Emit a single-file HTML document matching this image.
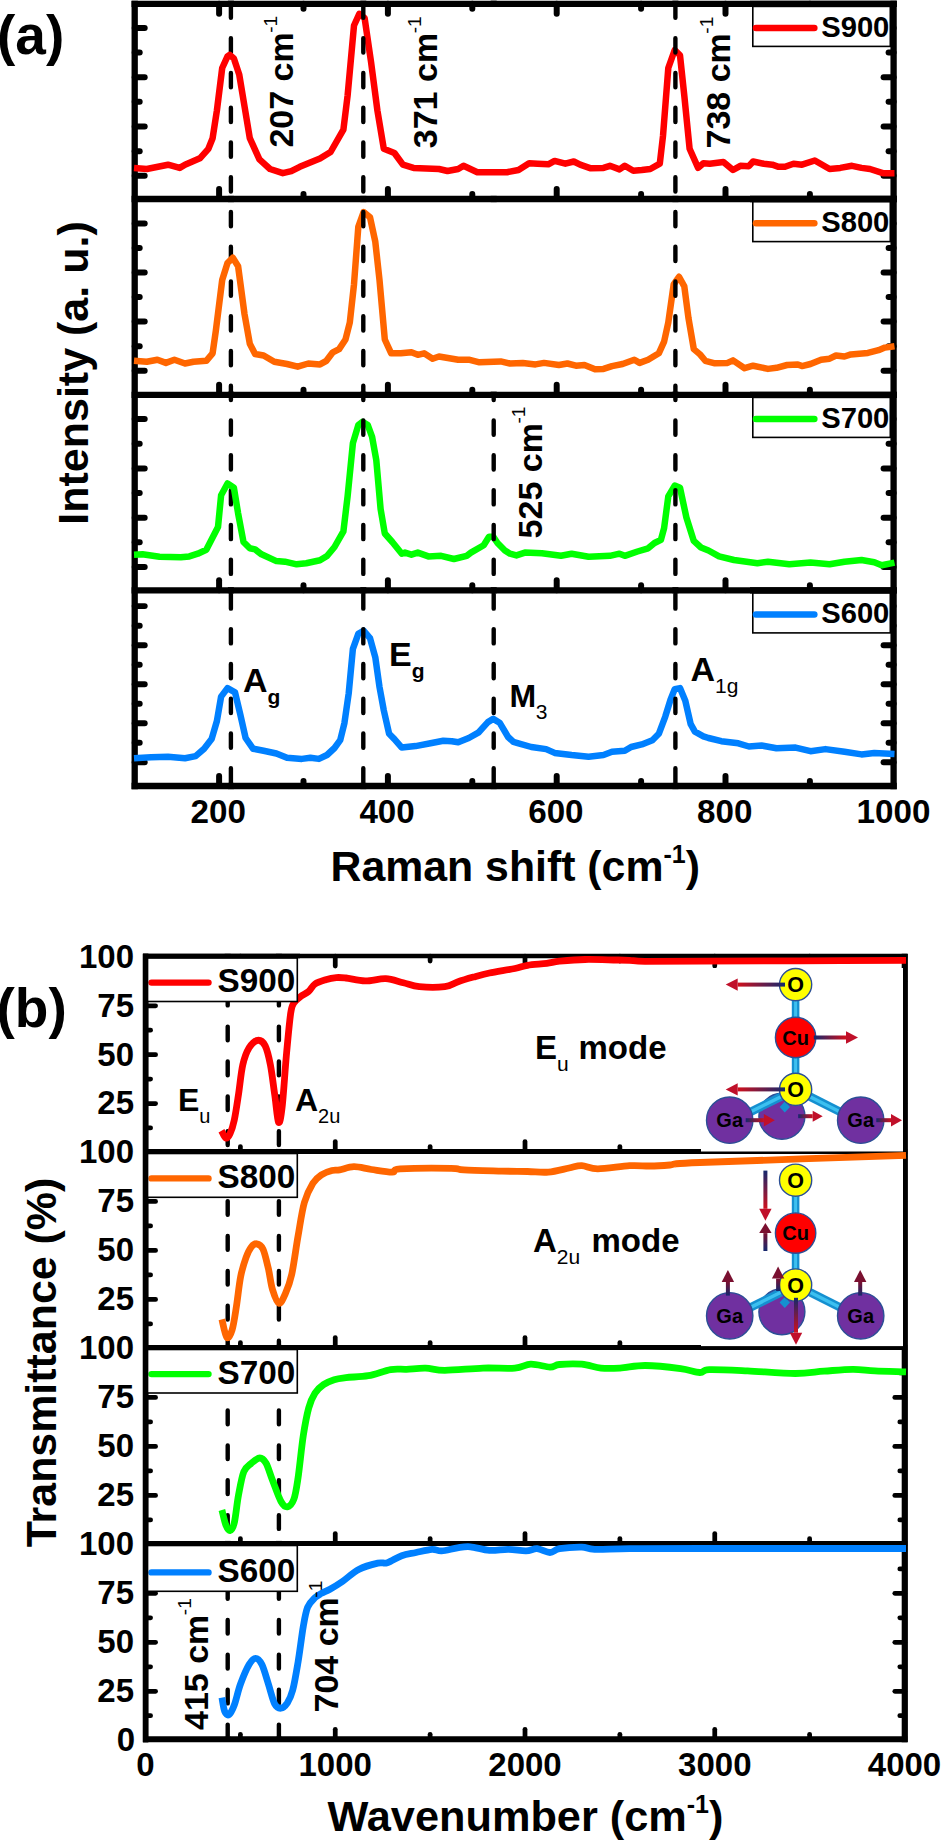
<!DOCTYPE html>
<html><head><meta charset="utf-8"><style>
html,body{margin:0;padding:0;background:#fff;}
svg{display:block;font-family:"Liberation Sans", sans-serif;}
</style></head><body>
<svg width="941" height="1843" viewBox="0 0 941 1843" font-family="Liberation Sans, sans-serif">
<defs>
<linearGradient id="gR" x1="0" y1="0" x2="1" y2="0"><stop offset="0" stop-color="#14286e"/><stop offset="1" stop-color="#d0101c"/></linearGradient>
<linearGradient id="gL" x1="1" y1="0" x2="0" y2="0"><stop offset="0" stop-color="#14286e"/><stop offset="1" stop-color="#d0101c"/></linearGradient>
<linearGradient id="gD" x1="0" y1="0" x2="0" y2="1"><stop offset="0" stop-color="#14286e"/><stop offset="1" stop-color="#d0101c"/></linearGradient>
<linearGradient id="gU" x1="0" y1="1" x2="0" y2="0"><stop offset="0" stop-color="#14286e"/><stop offset="1" stop-color="#7a1030"/></linearGradient>
<linearGradient id="bond" x1="0" y1="0" x2="1" y2="0"><stop offset="0" stop-color="#1a8fd0"/><stop offset="0.5" stop-color="#5cc8f5"/><stop offset="1" stop-color="#1a8fd0"/></linearGradient>
</defs>
<rect x="0" y="0" width="941" height="1843" fill="#fff"/>
<line x1="134.70" y1="27.90" x2="144.70" y2="27.90" stroke="#000" stroke-width="5.984999999999999" stroke-linecap="round" />
<line x1="893.60" y1="27.90" x2="883.60" y2="27.90" stroke="#000" stroke-width="5.984999999999999" stroke-linecap="round" />
<line x1="134.70" y1="52.55" x2="139.70" y2="52.55" stroke="#000" stroke-width="5.984999999999999" stroke-linecap="round" />
<line x1="893.60" y1="52.55" x2="888.60" y2="52.55" stroke="#000" stroke-width="5.984999999999999" stroke-linecap="round" />
<line x1="134.70" y1="77.20" x2="144.70" y2="77.20" stroke="#000" stroke-width="5.984999999999999" stroke-linecap="round" />
<line x1="893.60" y1="77.20" x2="883.60" y2="77.20" stroke="#000" stroke-width="5.984999999999999" stroke-linecap="round" />
<line x1="134.70" y1="101.85" x2="139.70" y2="101.85" stroke="#000" stroke-width="5.984999999999999" stroke-linecap="round" />
<line x1="893.60" y1="101.85" x2="888.60" y2="101.85" stroke="#000" stroke-width="5.984999999999999" stroke-linecap="round" />
<line x1="134.70" y1="126.50" x2="144.70" y2="126.50" stroke="#000" stroke-width="5.984999999999999" stroke-linecap="round" />
<line x1="893.60" y1="126.50" x2="883.60" y2="126.50" stroke="#000" stroke-width="5.984999999999999" stroke-linecap="round" />
<line x1="134.70" y1="151.15" x2="139.70" y2="151.15" stroke="#000" stroke-width="5.984999999999999" stroke-linecap="round" />
<line x1="893.60" y1="151.15" x2="888.60" y2="151.15" stroke="#000" stroke-width="5.984999999999999" stroke-linecap="round" />
<line x1="134.70" y1="175.80" x2="144.70" y2="175.80" stroke="#000" stroke-width="5.984999999999999" stroke-linecap="round" />
<line x1="893.60" y1="175.80" x2="883.60" y2="175.80" stroke="#000" stroke-width="5.984999999999999" stroke-linecap="round" />
<line x1="219.10" y1="3.80" x2="219.10" y2="13.80" stroke="#000" stroke-width="5.984999999999999" stroke-linecap="round" />
<line x1="219.10" y1="199.00" x2="219.10" y2="189.00" stroke="#000" stroke-width="5.984999999999999" stroke-linecap="round" />
<line x1="387.90" y1="3.80" x2="387.90" y2="13.80" stroke="#000" stroke-width="5.984999999999999" stroke-linecap="round" />
<line x1="387.90" y1="199.00" x2="387.90" y2="189.00" stroke="#000" stroke-width="5.984999999999999" stroke-linecap="round" />
<line x1="556.70" y1="3.80" x2="556.70" y2="13.80" stroke="#000" stroke-width="5.984999999999999" stroke-linecap="round" />
<line x1="556.70" y1="199.00" x2="556.70" y2="189.00" stroke="#000" stroke-width="5.984999999999999" stroke-linecap="round" />
<line x1="725.50" y1="3.80" x2="725.50" y2="13.80" stroke="#000" stroke-width="5.984999999999999" stroke-linecap="round" />
<line x1="725.50" y1="199.00" x2="725.50" y2="189.00" stroke="#000" stroke-width="5.984999999999999" stroke-linecap="round" />
<line x1="303.50" y1="3.80" x2="303.50" y2="8.80" stroke="#000" stroke-width="5.984999999999999" stroke-linecap="round" />
<line x1="303.50" y1="199.00" x2="303.50" y2="194.00" stroke="#000" stroke-width="5.984999999999999" stroke-linecap="round" />
<line x1="472.30" y1="3.80" x2="472.30" y2="8.80" stroke="#000" stroke-width="5.984999999999999" stroke-linecap="round" />
<line x1="472.30" y1="199.00" x2="472.30" y2="194.00" stroke="#000" stroke-width="5.984999999999999" stroke-linecap="round" />
<line x1="641.10" y1="3.80" x2="641.10" y2="8.80" stroke="#000" stroke-width="5.984999999999999" stroke-linecap="round" />
<line x1="641.10" y1="199.00" x2="641.10" y2="194.00" stroke="#000" stroke-width="5.984999999999999" stroke-linecap="round" />
<line x1="809.90" y1="3.80" x2="809.90" y2="8.80" stroke="#000" stroke-width="5.984999999999999" stroke-linecap="round" />
<line x1="809.90" y1="199.00" x2="809.90" y2="194.00" stroke="#000" stroke-width="5.984999999999999" stroke-linecap="round" />
<line x1="134.70" y1="223.40" x2="144.70" y2="223.40" stroke="#000" stroke-width="5.984999999999999" stroke-linecap="round" />
<line x1="893.60" y1="223.40" x2="883.60" y2="223.40" stroke="#000" stroke-width="5.984999999999999" stroke-linecap="round" />
<line x1="134.70" y1="247.95" x2="139.70" y2="247.95" stroke="#000" stroke-width="5.984999999999999" stroke-linecap="round" />
<line x1="893.60" y1="247.95" x2="888.60" y2="247.95" stroke="#000" stroke-width="5.984999999999999" stroke-linecap="round" />
<line x1="134.70" y1="272.50" x2="144.70" y2="272.50" stroke="#000" stroke-width="5.984999999999999" stroke-linecap="round" />
<line x1="893.60" y1="272.50" x2="883.60" y2="272.50" stroke="#000" stroke-width="5.984999999999999" stroke-linecap="round" />
<line x1="134.70" y1="297.05" x2="139.70" y2="297.05" stroke="#000" stroke-width="5.984999999999999" stroke-linecap="round" />
<line x1="893.60" y1="297.05" x2="888.60" y2="297.05" stroke="#000" stroke-width="5.984999999999999" stroke-linecap="round" />
<line x1="134.70" y1="321.60" x2="144.70" y2="321.60" stroke="#000" stroke-width="5.984999999999999" stroke-linecap="round" />
<line x1="893.60" y1="321.60" x2="883.60" y2="321.60" stroke="#000" stroke-width="5.984999999999999" stroke-linecap="round" />
<line x1="134.70" y1="346.15" x2="139.70" y2="346.15" stroke="#000" stroke-width="5.984999999999999" stroke-linecap="round" />
<line x1="893.60" y1="346.15" x2="888.60" y2="346.15" stroke="#000" stroke-width="5.984999999999999" stroke-linecap="round" />
<line x1="134.70" y1="370.70" x2="144.70" y2="370.70" stroke="#000" stroke-width="5.984999999999999" stroke-linecap="round" />
<line x1="893.60" y1="370.70" x2="883.60" y2="370.70" stroke="#000" stroke-width="5.984999999999999" stroke-linecap="round" />
<line x1="219.10" y1="394.80" x2="219.10" y2="384.80" stroke="#000" stroke-width="5.984999999999999" stroke-linecap="round" />
<line x1="387.90" y1="394.80" x2="387.90" y2="384.80" stroke="#000" stroke-width="5.984999999999999" stroke-linecap="round" />
<line x1="556.70" y1="394.80" x2="556.70" y2="384.80" stroke="#000" stroke-width="5.984999999999999" stroke-linecap="round" />
<line x1="725.50" y1="394.80" x2="725.50" y2="384.80" stroke="#000" stroke-width="5.984999999999999" stroke-linecap="round" />
<line x1="303.50" y1="394.80" x2="303.50" y2="389.80" stroke="#000" stroke-width="5.984999999999999" stroke-linecap="round" />
<line x1="472.30" y1="394.80" x2="472.30" y2="389.80" stroke="#000" stroke-width="5.984999999999999" stroke-linecap="round" />
<line x1="641.10" y1="394.80" x2="641.10" y2="389.80" stroke="#000" stroke-width="5.984999999999999" stroke-linecap="round" />
<line x1="809.90" y1="394.80" x2="809.90" y2="389.80" stroke="#000" stroke-width="5.984999999999999" stroke-linecap="round" />
<line x1="134.70" y1="419.10" x2="144.70" y2="419.10" stroke="#000" stroke-width="5.984999999999999" stroke-linecap="round" />
<line x1="893.60" y1="419.10" x2="883.60" y2="419.10" stroke="#000" stroke-width="5.984999999999999" stroke-linecap="round" />
<line x1="134.70" y1="443.75" x2="139.70" y2="443.75" stroke="#000" stroke-width="5.984999999999999" stroke-linecap="round" />
<line x1="893.60" y1="443.75" x2="888.60" y2="443.75" stroke="#000" stroke-width="5.984999999999999" stroke-linecap="round" />
<line x1="134.70" y1="468.40" x2="144.70" y2="468.40" stroke="#000" stroke-width="5.984999999999999" stroke-linecap="round" />
<line x1="893.60" y1="468.40" x2="883.60" y2="468.40" stroke="#000" stroke-width="5.984999999999999" stroke-linecap="round" />
<line x1="134.70" y1="493.05" x2="139.70" y2="493.05" stroke="#000" stroke-width="5.984999999999999" stroke-linecap="round" />
<line x1="893.60" y1="493.05" x2="888.60" y2="493.05" stroke="#000" stroke-width="5.984999999999999" stroke-linecap="round" />
<line x1="134.70" y1="517.70" x2="144.70" y2="517.70" stroke="#000" stroke-width="5.984999999999999" stroke-linecap="round" />
<line x1="893.60" y1="517.70" x2="883.60" y2="517.70" stroke="#000" stroke-width="5.984999999999999" stroke-linecap="round" />
<line x1="134.70" y1="542.35" x2="139.70" y2="542.35" stroke="#000" stroke-width="5.984999999999999" stroke-linecap="round" />
<line x1="893.60" y1="542.35" x2="888.60" y2="542.35" stroke="#000" stroke-width="5.984999999999999" stroke-linecap="round" />
<line x1="134.70" y1="567.00" x2="144.70" y2="567.00" stroke="#000" stroke-width="5.984999999999999" stroke-linecap="round" />
<line x1="893.60" y1="567.00" x2="883.60" y2="567.00" stroke="#000" stroke-width="5.984999999999999" stroke-linecap="round" />
<line x1="219.10" y1="590.30" x2="219.10" y2="580.30" stroke="#000" stroke-width="5.984999999999999" stroke-linecap="round" />
<line x1="387.90" y1="590.30" x2="387.90" y2="580.30" stroke="#000" stroke-width="5.984999999999999" stroke-linecap="round" />
<line x1="556.70" y1="590.30" x2="556.70" y2="580.30" stroke="#000" stroke-width="5.984999999999999" stroke-linecap="round" />
<line x1="725.50" y1="590.30" x2="725.50" y2="580.30" stroke="#000" stroke-width="5.984999999999999" stroke-linecap="round" />
<line x1="303.50" y1="590.30" x2="303.50" y2="585.30" stroke="#000" stroke-width="5.984999999999999" stroke-linecap="round" />
<line x1="472.30" y1="590.30" x2="472.30" y2="585.30" stroke="#000" stroke-width="5.984999999999999" stroke-linecap="round" />
<line x1="641.10" y1="590.30" x2="641.10" y2="585.30" stroke="#000" stroke-width="5.984999999999999" stroke-linecap="round" />
<line x1="809.90" y1="590.30" x2="809.90" y2="585.30" stroke="#000" stroke-width="5.984999999999999" stroke-linecap="round" />
<line x1="134.70" y1="606.12" x2="144.70" y2="606.12" stroke="#000" stroke-width="5.984999999999999" stroke-linecap="round" />
<line x1="893.60" y1="606.12" x2="883.60" y2="606.12" stroke="#000" stroke-width="5.984999999999999" stroke-linecap="round" />
<line x1="134.70" y1="625.64" x2="139.70" y2="625.64" stroke="#000" stroke-width="5.984999999999999" stroke-linecap="round" />
<line x1="893.60" y1="625.64" x2="888.60" y2="625.64" stroke="#000" stroke-width="5.984999999999999" stroke-linecap="round" />
<line x1="134.70" y1="645.16" x2="144.70" y2="645.16" stroke="#000" stroke-width="5.984999999999999" stroke-linecap="round" />
<line x1="893.60" y1="645.16" x2="883.60" y2="645.16" stroke="#000" stroke-width="5.984999999999999" stroke-linecap="round" />
<line x1="134.70" y1="664.68" x2="139.70" y2="664.68" stroke="#000" stroke-width="5.984999999999999" stroke-linecap="round" />
<line x1="893.60" y1="664.68" x2="888.60" y2="664.68" stroke="#000" stroke-width="5.984999999999999" stroke-linecap="round" />
<line x1="134.70" y1="684.20" x2="144.70" y2="684.20" stroke="#000" stroke-width="5.984999999999999" stroke-linecap="round" />
<line x1="893.60" y1="684.20" x2="883.60" y2="684.20" stroke="#000" stroke-width="5.984999999999999" stroke-linecap="round" />
<line x1="134.70" y1="703.72" x2="139.70" y2="703.72" stroke="#000" stroke-width="5.984999999999999" stroke-linecap="round" />
<line x1="893.60" y1="703.72" x2="888.60" y2="703.72" stroke="#000" stroke-width="5.984999999999999" stroke-linecap="round" />
<line x1="134.70" y1="723.24" x2="144.70" y2="723.24" stroke="#000" stroke-width="5.984999999999999" stroke-linecap="round" />
<line x1="893.60" y1="723.24" x2="883.60" y2="723.24" stroke="#000" stroke-width="5.984999999999999" stroke-linecap="round" />
<line x1="134.70" y1="742.76" x2="139.70" y2="742.76" stroke="#000" stroke-width="5.984999999999999" stroke-linecap="round" />
<line x1="893.60" y1="742.76" x2="888.60" y2="742.76" stroke="#000" stroke-width="5.984999999999999" stroke-linecap="round" />
<line x1="134.70" y1="762.28" x2="144.70" y2="762.28" stroke="#000" stroke-width="5.984999999999999" stroke-linecap="round" />
<line x1="893.60" y1="762.28" x2="883.60" y2="762.28" stroke="#000" stroke-width="5.984999999999999" stroke-linecap="round" />
<line x1="219.10" y1="786.00" x2="219.10" y2="776.00" stroke="#000" stroke-width="5.984999999999999" stroke-linecap="round" />
<line x1="387.90" y1="786.00" x2="387.90" y2="776.00" stroke="#000" stroke-width="5.984999999999999" stroke-linecap="round" />
<line x1="556.70" y1="786.00" x2="556.70" y2="776.00" stroke="#000" stroke-width="5.984999999999999" stroke-linecap="round" />
<line x1="725.50" y1="786.00" x2="725.50" y2="776.00" stroke="#000" stroke-width="5.984999999999999" stroke-linecap="round" />
<line x1="303.50" y1="786.00" x2="303.50" y2="781.00" stroke="#000" stroke-width="5.984999999999999" stroke-linecap="round" />
<line x1="472.30" y1="786.00" x2="472.30" y2="781.00" stroke="#000" stroke-width="5.984999999999999" stroke-linecap="round" />
<line x1="641.10" y1="786.00" x2="641.10" y2="781.00" stroke="#000" stroke-width="5.984999999999999" stroke-linecap="round" />
<line x1="809.90" y1="786.00" x2="809.90" y2="781.00" stroke="#000" stroke-width="5.984999999999999" stroke-linecap="round" />
<line x1="131.55" y1="3.80" x2="896.75" y2="3.80" stroke="#000" stroke-width="6.3" stroke-linecap="butt" />
<line x1="131.55" y1="199.00" x2="896.75" y2="199.00" stroke="#000" stroke-width="6.3" stroke-linecap="butt" />
<line x1="131.55" y1="394.80" x2="896.75" y2="394.80" stroke="#000" stroke-width="6.3" stroke-linecap="butt" />
<line x1="131.55" y1="590.30" x2="896.75" y2="590.30" stroke="#000" stroke-width="6.3" stroke-linecap="butt" />
<line x1="131.55" y1="786.00" x2="896.75" y2="786.00" stroke="#000" stroke-width="6.3" stroke-linecap="butt" />
<line x1="134.70" y1="0.65" x2="134.70" y2="789.15" stroke="#000" stroke-width="6.3" stroke-linecap="butt" />
<line x1="893.60" y1="0.65" x2="893.60" y2="789.15" stroke="#000" stroke-width="6.3" stroke-linecap="butt" />
<path d="M230.9,4.00V17.74 M230.9,38.20V52.50 M230.9,72.96V87.26 M230.9,107.72V122.02 M230.9,142.48V156.78 M230.9,177.24V191.54 M230.9,212.00V226.30 M230.9,246.76V261.06 M230.9,281.52V295.82 M230.9,316.28V330.58 M230.9,351.04V365.34 M230.9,385.80V400.10 M230.9,420.56V434.86 M230.9,455.32V469.62 M230.9,490.08V504.38 M230.9,524.84V539.14 M230.9,559.60V573.90 M230.9,594.36V608.66 M230.9,629.12V643.42 M230.9,663.88V678.18 M230.9,698.64V712.94 M230.9,733.40V747.70 M230.9,768.16V782.46" stroke="#000" stroke-width="4.4" stroke-linecap="round" fill="none"/>
<polyline points="134.0,167.9 146.8,169.0 168.0,164.7 179.7,167.9 185.0,164.7 199.9,158.3 208.4,148.8 212.6,138.2 216.9,110.5 222.2,68.0 227.5,56.3 229.6,54.8 233.9,58.4 239.2,74.4 244.5,106.3 249.8,138.2 259.4,159.4 270.0,169.0 282.8,173.2 291.3,171.1 299.8,166.8 320.0,158.5 330.6,152.0 343.4,129.6 347.6,95.6 354.0,25.5 359.3,13.8 364.6,18.0 371.0,61.6 377.4,110.5 383.8,148.8 394.4,153.0 402.9,164.7 413.5,167.9 439.0,169.0 447.5,171.0 458.2,169.0 463.5,165.8 477.3,172.2 507.0,172.2 518.5,170.0 529.1,163.2 537.6,163.7 548.3,164.3 554.6,160.9 565.3,163.7 573.8,161.5 580.1,164.7 590.8,168.3 603.5,167.9 609.9,165.8 619.5,169.4 624.8,165.8 633.3,170.7 641.8,170.0 650.3,169.0 659.8,163.7 663.0,136.0 668.3,68.0 674.7,50.0 680.0,55.3 684.3,95.6 689.6,148.8 698.1,167.9 703.4,163.2 709.8,163.7 723.4,162.0 733.0,170.0 740.4,165.8 748.9,166.2 753.1,161.5 763.8,163.7 772.3,164.7 778.6,166.8 785.0,166.8 793.5,163.7 802.0,164.7 814.8,160.5 829.6,169.0 840.3,167.9 852.0,165.8 861.5,167.9 870.0,169.0 882.8,173.2 894.5,173.2" fill="none" stroke="#ff0000" stroke-width="6.5" stroke-linejoin="round" stroke-linecap="butt" />
<polyline points="134.0,360.8 146.8,361.8 157.4,359.7 165.9,362.9 174.4,359.7 185.0,363.5 193.5,361.8 206.3,360.8 212.6,353.3 215.8,331.0 222.2,280.0 227.5,263.0 232.8,257.7 238.1,266.2 244.5,314.0 249.8,343.8 255.1,354.0 263.6,355.5 274.3,361.8 287.0,364.0 297.7,366.7 308.3,363.5 320.0,364.4 326.4,360.8 332.8,352.3 339.1,349.1 345.5,339.5 349.8,322.5 354.0,284.3 358.3,226.9 363.6,212.0 370.0,217.3 375.3,241.8 379.5,280.0 384.8,339.5 391.2,353.3 400.8,353.3 411.4,352.3 417.8,354.8 424.1,353.3 432.6,358.7 439.0,356.5 458.2,359.7 468.8,359.7 479.4,362.3 500.7,361.4 510.0,363.5 522.8,362.9 535.5,364.4 544.0,362.9 558.9,365.0 567.4,363.5 575.9,365.7 584.4,365.0 595.0,369.3 603.5,368.9 612.0,366.1 622.6,364.0 634.3,359.7 639.6,362.9 648.1,359.7 658.8,353.3 664.1,341.6 668.3,322.5 673.7,284.3 679.0,276.8 684.3,286.4 688.5,318.3 693.8,349.1 700.0,354.4 705.3,360.8 714.9,363.3 727.6,362.9 733.0,360.4 744.6,368.2 753.1,365.7 768.0,368.9 776.5,367.8 787.1,365.0 797.8,364.4 802.0,366.1 810.5,364.0 821.1,359.7 829.6,358.7 836.0,355.5 844.5,356.5 850.9,354.4 867.9,352.9 878.5,350.2 884.9,347.6 894.5,346.3" fill="none" stroke="#ff6600" stroke-width="6.5" stroke-linejoin="round" stroke-linecap="butt" />
<polyline points="134.0,554.7 142.5,554.3 159.5,556.8 180.8,557.3 189.3,556.4 197.8,553.7 206.3,549.8 218.0,527.1 221.1,495.2 227.5,483.5 233.9,487.8 238.1,513.3 243.5,542.0 249.8,548.3 255.1,549.4 261.5,554.3 276.4,561.1 284.9,561.7 296.6,564.3 306.2,563.2 320.0,560.3 327.0,556.0 334.5,547.0 343.4,531.3 347.6,496.3 352.9,443.1 358.3,425.1 362.5,421.9 367.8,425.1 372.1,436.8 376.3,460.1 380.6,509.0 384.8,533.5 392.3,542.0 401.8,553.7 405.0,552.6 411.4,554.7 417.8,552.6 428.4,556.4 441.1,555.8 453.9,559.0 466.7,555.8 470.9,552.6 483.7,545.2 489.0,536.7 493.2,536.7 497.5,543.0 504.9,550.5 510.0,553.7 516.4,555.4 524.9,552.6 541.9,553.2 561.0,555.8 571.6,553.7 588.6,556.8 609.9,555.8 619.5,553.7 624.8,555.8 637.5,551.5 648.1,548.3 654.5,543.0 660.9,539.8 664.1,528.2 668.3,496.3 674.7,485.6 680.0,487.8 686.4,517.5 693.8,540.9 701.0,547.5 708.5,550.5 719.1,556.4 734.0,560.0 757.4,563.2 768.0,561.7 789.3,564.3 810.5,562.6 829.6,564.3 844.5,561.7 861.5,560.0 874.3,562.2 881.7,565.3 894.5,562.6" fill="none" stroke="#00ff00" stroke-width="6.5" stroke-linejoin="round" stroke-linecap="butt" />
<polyline points="134.0,758.2 151.0,757.2 168.0,756.7 185.0,758.2 195.6,756.1 204.1,748.7 211.6,739.1 216.9,721.0 221.1,696.6 227.5,688.1 235.0,692.3 240.3,714.6 245.6,738.0 253.0,748.7 263.6,750.8 276.4,753.5 287.0,757.8 301.9,758.9 310.4,757.8 318.9,758.9 327.0,755.0 334.5,748.0 340.2,740.2 344.4,723.2 348.7,693.4 352.9,648.8 358.3,633.9 363.6,630.7 370.0,638.1 375.3,657.3 379.5,687.0 383.8,710.4 389.1,733.8 394.4,739.1 401.8,747.6 415.6,746.1 430.5,743.3 443.3,740.8 451.8,741.2 458.2,742.3 468.8,738.0 478.3,732.7 487.9,722.1 493.2,718.9 499.6,722.7 508.1,737.0 513.4,741.9 518.5,743.3 531.3,747.0 546.1,749.1 554.6,752.9 571.6,755.0 588.6,756.7 603.5,755.0 612.0,751.8 624.8,750.8 631.1,747.0 641.8,744.4 652.4,740.2 658.8,733.8 665.2,716.8 670.5,699.8 674.7,689.1 680.0,688.1 685.3,700.8 690.7,724.2 694.9,731.7 703.4,736.3 708.5,738.0 721.3,741.2 738.3,743.3 748.9,746.5 761.6,745.5 776.5,748.2 795.6,747.6 810.5,751.2 825.4,749.1 844.5,751.8 861.5,754.4 874.3,752.9 894.5,754.0" fill="none" stroke="#0080ff" stroke-width="6.5" stroke-linejoin="round" stroke-linecap="butt" />
<path d="M363.3,4.00V17.74 M363.3,38.20V52.50 M363.3,72.96V87.26 M363.3,107.72V122.02 M363.3,142.48V156.78 M363.3,177.24V191.54 M363.3,212.00V226.30 M363.3,246.76V261.06 M363.3,281.52V295.82 M363.3,316.28V330.58 M363.3,351.04V365.34 M363.3,385.80V400.10 M363.3,420.56V434.86 M363.3,455.32V469.62 M363.3,490.08V504.38 M363.3,524.84V539.14 M363.3,559.60V573.90 M363.3,594.36V608.66 M363.3,629.12V643.42 M363.3,663.88V678.18 M363.3,698.64V712.94 M363.3,733.40V747.70 M363.3,768.16V782.46" stroke="#000" stroke-width="4.4" stroke-linecap="round" fill="none"/>
<path d="M675.4,4.00V17.74 M675.4,38.20V52.50 M675.4,72.96V87.26 M675.4,107.72V122.02 M675.4,142.48V156.78 M675.4,177.24V191.54 M675.4,212.00V226.30 M675.4,246.76V261.06 M675.4,281.52V295.82 M675.4,316.28V330.58 M675.4,351.04V365.34 M675.4,385.80V400.10 M675.4,420.56V434.86 M675.4,455.32V469.62 M675.4,490.08V504.38 M675.4,524.84V539.14 M675.4,559.60V573.90 M675.4,594.36V608.66 M675.4,629.12V643.42 M675.4,663.88V678.18 M675.4,698.64V712.94 M675.4,733.40V747.70 M675.4,768.16V782.46" stroke="#000" stroke-width="4.4" stroke-linecap="round" fill="none"/>
<path d="M493.7,398.30V400.10 M493.7,420.56V434.86 M493.7,455.32V469.62 M493.7,490.08V504.38 M493.7,524.84V539.14 M493.7,559.60V573.90 M493.7,594.36V608.66 M493.7,629.12V643.42 M493.7,663.88V678.18 M493.7,698.64V712.94 M493.7,733.40V747.70 M493.7,768.16V782.46" stroke="#000" stroke-width="4.4" stroke-linecap="round" fill="none"/>
<line x1="227.90" y1="3.80" x2="233.90" y2="3.80" stroke="#000" stroke-width="6.3" stroke-linecap="butt" />
<line x1="360.30" y1="3.80" x2="366.30" y2="3.80" stroke="#000" stroke-width="6.3" stroke-linecap="butt" />
<line x1="672.40" y1="3.80" x2="678.40" y2="3.80" stroke="#000" stroke-width="6.3" stroke-linecap="butt" />
<line x1="490.70" y1="3.80" x2="496.70" y2="3.80" stroke="#000" stroke-width="6.3" stroke-linecap="butt" />
<line x1="227.90" y1="199.00" x2="233.90" y2="199.00" stroke="#000" stroke-width="6.3" stroke-linecap="butt" />
<line x1="360.30" y1="199.00" x2="366.30" y2="199.00" stroke="#000" stroke-width="6.3" stroke-linecap="butt" />
<line x1="672.40" y1="199.00" x2="678.40" y2="199.00" stroke="#000" stroke-width="6.3" stroke-linecap="butt" />
<line x1="490.70" y1="199.00" x2="496.70" y2="199.00" stroke="#000" stroke-width="6.3" stroke-linecap="butt" />
<line x1="227.90" y1="394.80" x2="233.90" y2="394.80" stroke="#000" stroke-width="6.3" stroke-linecap="butt" />
<line x1="360.30" y1="394.80" x2="366.30" y2="394.80" stroke="#000" stroke-width="6.3" stroke-linecap="butt" />
<line x1="672.40" y1="394.80" x2="678.40" y2="394.80" stroke="#000" stroke-width="6.3" stroke-linecap="butt" />
<line x1="490.70" y1="394.80" x2="496.70" y2="394.80" stroke="#000" stroke-width="6.3" stroke-linecap="butt" />
<line x1="227.90" y1="590.30" x2="233.90" y2="590.30" stroke="#000" stroke-width="6.3" stroke-linecap="butt" />
<line x1="360.30" y1="590.30" x2="366.30" y2="590.30" stroke="#000" stroke-width="6.3" stroke-linecap="butt" />
<line x1="672.40" y1="590.30" x2="678.40" y2="590.30" stroke="#000" stroke-width="6.3" stroke-linecap="butt" />
<line x1="490.70" y1="590.30" x2="496.70" y2="590.30" stroke="#000" stroke-width="6.3" stroke-linecap="butt" />
<line x1="227.90" y1="786.00" x2="233.90" y2="786.00" stroke="#000" stroke-width="6.3" stroke-linecap="butt" />
<line x1="360.30" y1="786.00" x2="366.30" y2="786.00" stroke="#000" stroke-width="6.3" stroke-linecap="butt" />
<line x1="672.40" y1="786.00" x2="678.40" y2="786.00" stroke="#000" stroke-width="6.3" stroke-linecap="butt" />
<line x1="490.70" y1="786.00" x2="496.70" y2="786.00" stroke="#000" stroke-width="6.3" stroke-linecap="butt" />
<rect x="752.8" y="6.4" width="137.5" height="40.0" fill="#fff" stroke="#000" stroke-width="1.6"/>
<line x1="756.00" y1="28.00" x2="814.30" y2="28.00" stroke="#ff0000" stroke-width="6.6" stroke-linecap="round" />
<text x="821.2" y="36.8" font-size="29.2" font-weight="bold" text-anchor="start" >S900</text>
<rect x="752.8" y="201.6" width="137.5" height="40.0" fill="#fff" stroke="#000" stroke-width="1.6"/>
<line x1="756.00" y1="223.20" x2="814.30" y2="223.20" stroke="#ff6600" stroke-width="6.6" stroke-linecap="round" />
<text x="821.2" y="232.0" font-size="29.2" font-weight="bold" text-anchor="start" >S800</text>
<rect x="752.8" y="397.4" width="137.5" height="40.0" fill="#fff" stroke="#000" stroke-width="1.6"/>
<line x1="756.00" y1="419.00" x2="814.30" y2="419.00" stroke="#00ff00" stroke-width="6.6" stroke-linecap="round" />
<text x="821.2" y="427.8" font-size="29.2" font-weight="bold" text-anchor="start" >S700</text>
<rect x="752.8" y="592.9" width="137.5" height="40.0" fill="#fff" stroke="#000" stroke-width="1.6"/>
<line x1="756.00" y1="614.50" x2="814.30" y2="614.50" stroke="#0080ff" stroke-width="6.6" stroke-linecap="round" />
<text x="821.2" y="623.3" font-size="29.2" font-weight="bold" text-anchor="start" >S600</text>
<line x1="750.00" y1="3.80" x2="896.75" y2="3.80" stroke="#000" stroke-width="6.3" stroke-linecap="butt" />
<line x1="750.00" y1="199.00" x2="896.75" y2="199.00" stroke="#000" stroke-width="6.3" stroke-linecap="butt" />
<line x1="750.00" y1="394.80" x2="896.75" y2="394.80" stroke="#000" stroke-width="6.3" stroke-linecap="butt" />
<line x1="750.00" y1="590.30" x2="896.75" y2="590.30" stroke="#000" stroke-width="6.3" stroke-linecap="butt" />
<text x="218.3" y="823.2" font-size="33.2" font-weight="bold" text-anchor="middle" >200</text>
<text x="387.1" y="823.2" font-size="33.2" font-weight="bold" text-anchor="middle" >400</text>
<text x="555.9" y="823.2" font-size="33.2" font-weight="bold" text-anchor="middle" >600</text>
<text x="724.7" y="823.2" font-size="33.2" font-weight="bold" text-anchor="middle" >800</text>
<text x="893.5" y="823.2" font-size="33.2" font-weight="bold" text-anchor="middle" >1000</text>
<text x="330.5" y="880.6" font-size="42.8" font-weight="bold" text-anchor="start" >Raman shift (cm<tspan font-size="25" dy="-18">-1</tspan><tspan dy="18">)</tspan></text>
<text transform="translate(87.5,373) rotate(-90)" font-size="43" font-weight="bold" text-anchor="middle">Intensity (a. u.)</text>
<text x="-3.0" y="53.5" font-size="55" font-weight="bold" text-anchor="start" >(a)</text>
<text transform="translate(293.4,147.6) rotate(-90)" font-size="34" font-weight="bold">207 cm<tspan font-size="19" font-weight="normal" dx="-0.5" dy="-16.5">-1</tspan></text>
<text transform="translate(437,148.2) rotate(-90)" font-size="34" font-weight="bold">371 cm<tspan font-size="19" font-weight="normal" dx="-0.5" dy="-16.5">-1</tspan></text>
<text transform="translate(729.8,148.5) rotate(-90)" font-size="34" font-weight="bold">738 cm<tspan font-size="19" font-weight="normal" dx="-0.5" dy="-16.5">-1</tspan></text>
<text transform="translate(541.9,538.4) rotate(-90)" font-size="34" font-weight="bold">525 cm<tspan font-size="19" font-weight="normal" dx="-0.5" dy="-16.5">-1</tspan></text>
<text x="243" y="692.3" font-size="34" font-weight="bold">A<tspan font-size="21" font-weight="bold" dx="0" dy="12">g</tspan></text>
<text x="389" y="665.7" font-size="34" font-weight="bold">E<tspan font-size="21" font-weight="bold" dx="0" dy="12">g</tspan></text>
<text x="509.5" y="706.9" font-size="32" font-weight="bold">M<tspan font-size="21" font-weight="normal" dx="-0.5" dy="12">3</tspan></text>
<text x="690.5" y="680.8" font-size="34" font-weight="bold">A<tspan font-size="21" font-weight="normal" dx="0" dy="12">1g</tspan></text>
<line x1="145.60" y1="981.34" x2="150.60" y2="981.34" stroke="#000" stroke-width="4.75" stroke-linecap="round" />
<line x1="904.80" y1="981.34" x2="899.80" y2="981.34" stroke="#000" stroke-width="4.75" stroke-linecap="round" />
<line x1="145.60" y1="1005.77" x2="155.60" y2="1005.77" stroke="#000" stroke-width="4.75" stroke-linecap="round" />
<line x1="904.80" y1="1005.77" x2="894.80" y2="1005.77" stroke="#000" stroke-width="4.75" stroke-linecap="round" />
<line x1="145.60" y1="1030.21" x2="150.60" y2="1030.21" stroke="#000" stroke-width="4.75" stroke-linecap="round" />
<line x1="904.80" y1="1030.21" x2="899.80" y2="1030.21" stroke="#000" stroke-width="4.75" stroke-linecap="round" />
<line x1="145.60" y1="1054.65" x2="155.60" y2="1054.65" stroke="#000" stroke-width="4.75" stroke-linecap="round" />
<line x1="904.80" y1="1054.65" x2="894.80" y2="1054.65" stroke="#000" stroke-width="4.75" stroke-linecap="round" />
<line x1="145.60" y1="1079.09" x2="150.60" y2="1079.09" stroke="#000" stroke-width="4.75" stroke-linecap="round" />
<line x1="904.80" y1="1079.09" x2="899.80" y2="1079.09" stroke="#000" stroke-width="4.75" stroke-linecap="round" />
<line x1="145.60" y1="1103.53" x2="155.60" y2="1103.53" stroke="#000" stroke-width="4.75" stroke-linecap="round" />
<line x1="904.80" y1="1103.53" x2="894.80" y2="1103.53" stroke="#000" stroke-width="4.75" stroke-linecap="round" />
<line x1="145.60" y1="1127.96" x2="150.60" y2="1127.96" stroke="#000" stroke-width="4.75" stroke-linecap="round" />
<line x1="904.80" y1="1127.96" x2="899.80" y2="1127.96" stroke="#000" stroke-width="4.75" stroke-linecap="round" />
<line x1="335.25" y1="956.00" x2="335.25" y2="966.00" stroke="#000" stroke-width="4.75" stroke-linecap="round" />
<line x1="335.25" y1="1151.50" x2="335.25" y2="1141.50" stroke="#000" stroke-width="4.75" stroke-linecap="round" />
<line x1="525.00" y1="956.00" x2="525.00" y2="966.00" stroke="#000" stroke-width="4.75" stroke-linecap="round" />
<line x1="525.00" y1="1151.50" x2="525.00" y2="1141.50" stroke="#000" stroke-width="4.75" stroke-linecap="round" />
<line x1="714.75" y1="956.00" x2="714.75" y2="966.00" stroke="#000" stroke-width="4.75" stroke-linecap="round" />
<line x1="714.75" y1="1151.50" x2="714.75" y2="1141.50" stroke="#000" stroke-width="4.75" stroke-linecap="round" />
<line x1="240.38" y1="956.00" x2="240.38" y2="961.00" stroke="#000" stroke-width="4.75" stroke-linecap="round" />
<line x1="240.38" y1="1151.50" x2="240.38" y2="1146.50" stroke="#000" stroke-width="4.75" stroke-linecap="round" />
<line x1="430.12" y1="956.00" x2="430.12" y2="961.00" stroke="#000" stroke-width="4.75" stroke-linecap="round" />
<line x1="430.12" y1="1151.50" x2="430.12" y2="1146.50" stroke="#000" stroke-width="4.75" stroke-linecap="round" />
<line x1="619.88" y1="956.00" x2="619.88" y2="961.00" stroke="#000" stroke-width="4.75" stroke-linecap="round" />
<line x1="619.88" y1="1151.50" x2="619.88" y2="1146.50" stroke="#000" stroke-width="4.75" stroke-linecap="round" />
<line x1="809.62" y1="956.00" x2="809.62" y2="961.00" stroke="#000" stroke-width="4.75" stroke-linecap="round" />
<line x1="809.62" y1="1151.50" x2="809.62" y2="1146.50" stroke="#000" stroke-width="4.75" stroke-linecap="round" />
<line x1="145.60" y1="1176.90" x2="150.60" y2="1176.90" stroke="#000" stroke-width="4.75" stroke-linecap="round" />
<line x1="904.80" y1="1176.90" x2="899.80" y2="1176.90" stroke="#000" stroke-width="4.75" stroke-linecap="round" />
<line x1="145.60" y1="1201.40" x2="155.60" y2="1201.40" stroke="#000" stroke-width="4.75" stroke-linecap="round" />
<line x1="904.80" y1="1201.40" x2="894.80" y2="1201.40" stroke="#000" stroke-width="4.75" stroke-linecap="round" />
<line x1="145.60" y1="1225.90" x2="150.60" y2="1225.90" stroke="#000" stroke-width="4.75" stroke-linecap="round" />
<line x1="904.80" y1="1225.90" x2="899.80" y2="1225.90" stroke="#000" stroke-width="4.75" stroke-linecap="round" />
<line x1="145.60" y1="1250.40" x2="155.60" y2="1250.40" stroke="#000" stroke-width="4.75" stroke-linecap="round" />
<line x1="904.80" y1="1250.40" x2="894.80" y2="1250.40" stroke="#000" stroke-width="4.75" stroke-linecap="round" />
<line x1="145.60" y1="1274.90" x2="150.60" y2="1274.90" stroke="#000" stroke-width="4.75" stroke-linecap="round" />
<line x1="904.80" y1="1274.90" x2="899.80" y2="1274.90" stroke="#000" stroke-width="4.75" stroke-linecap="round" />
<line x1="145.60" y1="1299.40" x2="155.60" y2="1299.40" stroke="#000" stroke-width="4.75" stroke-linecap="round" />
<line x1="904.80" y1="1299.40" x2="894.80" y2="1299.40" stroke="#000" stroke-width="4.75" stroke-linecap="round" />
<line x1="145.60" y1="1323.90" x2="150.60" y2="1323.90" stroke="#000" stroke-width="4.75" stroke-linecap="round" />
<line x1="904.80" y1="1323.90" x2="899.80" y2="1323.90" stroke="#000" stroke-width="4.75" stroke-linecap="round" />
<line x1="335.25" y1="1347.50" x2="335.25" y2="1337.50" stroke="#000" stroke-width="4.75" stroke-linecap="round" />
<line x1="525.00" y1="1347.50" x2="525.00" y2="1337.50" stroke="#000" stroke-width="4.75" stroke-linecap="round" />
<line x1="714.75" y1="1347.50" x2="714.75" y2="1337.50" stroke="#000" stroke-width="4.75" stroke-linecap="round" />
<line x1="240.38" y1="1347.50" x2="240.38" y2="1342.50" stroke="#000" stroke-width="4.75" stroke-linecap="round" />
<line x1="430.12" y1="1347.50" x2="430.12" y2="1342.50" stroke="#000" stroke-width="4.75" stroke-linecap="round" />
<line x1="619.88" y1="1347.50" x2="619.88" y2="1342.50" stroke="#000" stroke-width="4.75" stroke-linecap="round" />
<line x1="809.62" y1="1347.50" x2="809.62" y2="1342.50" stroke="#000" stroke-width="4.75" stroke-linecap="round" />
<line x1="145.60" y1="1372.90" x2="150.60" y2="1372.90" stroke="#000" stroke-width="4.75" stroke-linecap="round" />
<line x1="904.80" y1="1372.90" x2="899.80" y2="1372.90" stroke="#000" stroke-width="4.75" stroke-linecap="round" />
<line x1="145.60" y1="1397.40" x2="155.60" y2="1397.40" stroke="#000" stroke-width="4.75" stroke-linecap="round" />
<line x1="904.80" y1="1397.40" x2="894.80" y2="1397.40" stroke="#000" stroke-width="4.75" stroke-linecap="round" />
<line x1="145.60" y1="1421.90" x2="150.60" y2="1421.90" stroke="#000" stroke-width="4.75" stroke-linecap="round" />
<line x1="904.80" y1="1421.90" x2="899.80" y2="1421.90" stroke="#000" stroke-width="4.75" stroke-linecap="round" />
<line x1="145.60" y1="1446.40" x2="155.60" y2="1446.40" stroke="#000" stroke-width="4.75" stroke-linecap="round" />
<line x1="904.80" y1="1446.40" x2="894.80" y2="1446.40" stroke="#000" stroke-width="4.75" stroke-linecap="round" />
<line x1="145.60" y1="1470.90" x2="150.60" y2="1470.90" stroke="#000" stroke-width="4.75" stroke-linecap="round" />
<line x1="904.80" y1="1470.90" x2="899.80" y2="1470.90" stroke="#000" stroke-width="4.75" stroke-linecap="round" />
<line x1="145.60" y1="1495.40" x2="155.60" y2="1495.40" stroke="#000" stroke-width="4.75" stroke-linecap="round" />
<line x1="904.80" y1="1495.40" x2="894.80" y2="1495.40" stroke="#000" stroke-width="4.75" stroke-linecap="round" />
<line x1="145.60" y1="1519.90" x2="150.60" y2="1519.90" stroke="#000" stroke-width="4.75" stroke-linecap="round" />
<line x1="904.80" y1="1519.90" x2="899.80" y2="1519.90" stroke="#000" stroke-width="4.75" stroke-linecap="round" />
<line x1="335.25" y1="1543.50" x2="335.25" y2="1533.50" stroke="#000" stroke-width="4.75" stroke-linecap="round" />
<line x1="525.00" y1="1543.50" x2="525.00" y2="1533.50" stroke="#000" stroke-width="4.75" stroke-linecap="round" />
<line x1="714.75" y1="1543.50" x2="714.75" y2="1533.50" stroke="#000" stroke-width="4.75" stroke-linecap="round" />
<line x1="240.38" y1="1543.50" x2="240.38" y2="1538.50" stroke="#000" stroke-width="4.75" stroke-linecap="round" />
<line x1="430.12" y1="1543.50" x2="430.12" y2="1538.50" stroke="#000" stroke-width="4.75" stroke-linecap="round" />
<line x1="619.88" y1="1543.50" x2="619.88" y2="1538.50" stroke="#000" stroke-width="4.75" stroke-linecap="round" />
<line x1="809.62" y1="1543.50" x2="809.62" y2="1538.50" stroke="#000" stroke-width="4.75" stroke-linecap="round" />
<line x1="145.60" y1="1568.88" x2="150.60" y2="1568.88" stroke="#000" stroke-width="4.75" stroke-linecap="round" />
<line x1="904.80" y1="1568.88" x2="899.80" y2="1568.88" stroke="#000" stroke-width="4.75" stroke-linecap="round" />
<line x1="145.60" y1="1593.35" x2="155.60" y2="1593.35" stroke="#000" stroke-width="4.75" stroke-linecap="round" />
<line x1="904.80" y1="1593.35" x2="894.80" y2="1593.35" stroke="#000" stroke-width="4.75" stroke-linecap="round" />
<line x1="145.60" y1="1617.83" x2="150.60" y2="1617.83" stroke="#000" stroke-width="4.75" stroke-linecap="round" />
<line x1="904.80" y1="1617.83" x2="899.80" y2="1617.83" stroke="#000" stroke-width="4.75" stroke-linecap="round" />
<line x1="145.60" y1="1642.30" x2="155.60" y2="1642.30" stroke="#000" stroke-width="4.75" stroke-linecap="round" />
<line x1="904.80" y1="1642.30" x2="894.80" y2="1642.30" stroke="#000" stroke-width="4.75" stroke-linecap="round" />
<line x1="145.60" y1="1666.78" x2="150.60" y2="1666.78" stroke="#000" stroke-width="4.75" stroke-linecap="round" />
<line x1="904.80" y1="1666.78" x2="899.80" y2="1666.78" stroke="#000" stroke-width="4.75" stroke-linecap="round" />
<line x1="145.60" y1="1691.25" x2="155.60" y2="1691.25" stroke="#000" stroke-width="4.75" stroke-linecap="round" />
<line x1="904.80" y1="1691.25" x2="894.80" y2="1691.25" stroke="#000" stroke-width="4.75" stroke-linecap="round" />
<line x1="145.60" y1="1715.73" x2="150.60" y2="1715.73" stroke="#000" stroke-width="4.75" stroke-linecap="round" />
<line x1="904.80" y1="1715.73" x2="899.80" y2="1715.73" stroke="#000" stroke-width="4.75" stroke-linecap="round" />
<line x1="335.25" y1="1739.30" x2="335.25" y2="1729.30" stroke="#000" stroke-width="4.75" stroke-linecap="round" />
<line x1="525.00" y1="1739.30" x2="525.00" y2="1729.30" stroke="#000" stroke-width="4.75" stroke-linecap="round" />
<line x1="714.75" y1="1739.30" x2="714.75" y2="1729.30" stroke="#000" stroke-width="4.75" stroke-linecap="round" />
<line x1="240.38" y1="1739.30" x2="240.38" y2="1734.30" stroke="#000" stroke-width="4.75" stroke-linecap="round" />
<line x1="430.12" y1="1739.30" x2="430.12" y2="1734.30" stroke="#000" stroke-width="4.75" stroke-linecap="round" />
<line x1="619.88" y1="1739.30" x2="619.88" y2="1734.30" stroke="#000" stroke-width="4.75" stroke-linecap="round" />
<line x1="809.62" y1="1739.30" x2="809.62" y2="1734.30" stroke="#000" stroke-width="4.75" stroke-linecap="round" />
<line x1="143.10" y1="956.00" x2="907.30" y2="956.00" stroke="#000" stroke-width="4.4" stroke-linecap="butt" />
<line x1="143.10" y1="1151.50" x2="907.30" y2="1151.50" stroke="#000" stroke-width="5.2" stroke-linecap="butt" />
<line x1="143.10" y1="1347.50" x2="907.30" y2="1347.50" stroke="#000" stroke-width="5.2" stroke-linecap="butt" />
<line x1="143.10" y1="1543.50" x2="907.30" y2="1543.50" stroke="#000" stroke-width="5.2" stroke-linecap="butt" />
<line x1="143.10" y1="1739.30" x2="907.30" y2="1739.30" stroke="#000" stroke-width="6.0" stroke-linecap="butt" />
<line x1="145.60" y1="953.80" x2="145.60" y2="1742.30" stroke="#000" stroke-width="5.5" stroke-linecap="butt" />
<line x1="904.80" y1="953.80" x2="904.80" y2="1742.30" stroke="#000" stroke-width="6.2" stroke-linecap="butt" />
<rect x="701" y="968" width="202" height="183.5" fill="#fff"/>
<rect x="701" y="1156" width="202" height="190.1" fill="#fff"/>
<path d="M227.7,958.00V970.50 M227.7,991.70V1005.40 M227.7,1026.60V1040.30 M227.7,1061.50V1075.20 M227.7,1096.40V1110.10 M227.7,1131.30V1145.00 M227.7,1166.20V1179.90 M227.7,1201.10V1214.80 M227.7,1236.00V1249.70 M227.7,1270.90V1284.60 M227.7,1305.80V1319.50 M227.7,1340.70V1354.40 M227.7,1375.60V1389.30 M227.7,1410.50V1424.20 M227.7,1445.40V1459.10 M227.7,1480.30V1494.00 M227.7,1515.20V1528.90 M227.7,1550.10V1563.80 M227.7,1585.00V1598.70 M227.7,1619.90V1633.60 M227.7,1654.80V1668.50 M227.7,1689.70V1703.40 M227.7,1724.60V1736.30" stroke="#000" stroke-width="4.4" stroke-linecap="round" fill="none"/>
<path d="M278.9,958.00V970.50 M278.9,991.70V1005.40 M278.9,1026.60V1040.30 M278.9,1061.50V1075.20 M278.9,1096.40V1110.10 M278.9,1131.30V1145.00 M278.9,1166.20V1179.90 M278.9,1201.10V1214.80 M278.9,1236.00V1249.70 M278.9,1270.90V1284.60 M278.9,1305.80V1319.50 M278.9,1340.70V1354.40 M278.9,1375.60V1389.30 M278.9,1410.50V1424.20 M278.9,1445.40V1459.10 M278.9,1480.30V1494.00 M278.9,1515.20V1528.90 M278.9,1550.10V1563.80 M278.9,1585.00V1598.70 M278.9,1619.90V1633.60 M278.9,1654.80V1668.50 M278.9,1689.70V1703.40 M278.9,1724.60V1736.30" stroke="#000" stroke-width="4.4" stroke-linecap="round" fill="none"/>
<path d="M221.5,1130.7 C222.2,1131.9 224.4,1137.6 225.8,1138.1 C227.2,1138.6 228.6,1136.8 230.0,1133.8 C231.4,1130.8 232.9,1126.5 234.3,1120.0 C235.7,1113.5 237.1,1103.7 238.5,1094.5 C239.9,1085.3 241.0,1072.6 242.8,1064.8 C244.6,1057.0 246.6,1051.9 249.1,1047.8 C251.6,1043.7 254.9,1040.7 257.6,1040.3 C260.3,1039.9 263.0,1041.5 265.1,1045.6 C267.2,1049.7 268.8,1056.6 270.4,1064.8 C272.0,1073.0 273.3,1084.9 274.7,1094.5 C276.1,1104.1 277.3,1120.1 278.5,1122.2 C279.7,1124.3 280.8,1118.3 282.1,1107.3 C283.4,1096.3 284.9,1071.9 286.3,1056.3 C287.7,1040.7 289.4,1022.7 290.6,1013.8 C291.9,1004.9 292.2,1005.9 293.8,1003.1 C295.4,1000.3 297.7,998.8 300.2,996.8 C302.7,994.8 306.2,993.5 308.7,991.4 C311.2,989.3 312.2,985.9 315.0,984.0 C317.8,982.1 322.1,980.9 325.7,979.8 C329.2,978.7 332.9,977.9 336.3,977.6 C339.7,977.3 341.1,977.5 345.9,978.0 C350.7,978.5 358.5,980.8 365.1,980.9 C371.8,981.0 379.4,978.4 385.8,978.7 C392.2,979.0 397.7,981.5 403.3,982.8 C408.9,984.1 412.4,986.1 419.3,986.7 C426.2,987.4 438.4,987.5 444.8,986.7 C451.2,985.9 452.7,983.5 457.5,981.9 C462.3,980.3 468.1,978.6 473.4,977.1 C478.7,975.6 482.5,974.4 489.4,973.0 C496.3,971.6 508.5,969.8 514.9,968.5 C521.3,967.2 522.3,966.1 527.6,965.3 C532.9,964.4 541.5,964.1 546.8,963.4 C552.1,962.7 553.1,961.9 559.5,961.2 C565.9,960.6 575.4,959.7 585.0,959.5 C594.6,959.3 609.5,959.9 616.9,960.0 C624.3,960.1 624.9,960.1 629.6,960.3 C634.3,960.5 633.3,961.1 645.0,961.3 C656.7,961.4 674.2,961.3 700.0,961.2 C725.8,961.1 765.7,960.9 800.0,960.8 C834.3,960.6 888.3,960.4 906.0,960.3" fill="none" stroke="#ff0000" stroke-width="6.8" stroke-linejoin="round" stroke-linecap="butt"/>
<path d="M221.9,1319.3 C222.7,1322.3 225.1,1335.5 226.8,1337.3 C228.5,1339.1 230.5,1335.0 232.1,1329.9 C233.7,1324.8 235.0,1315.3 236.4,1306.5 C237.8,1297.7 239.0,1285.0 240.6,1276.8 C242.2,1268.6 244.2,1262.6 246.0,1257.6 C247.8,1252.6 249.5,1249.3 251.3,1247.0 C253.1,1244.7 254.7,1243.5 256.6,1243.8 C258.6,1244.1 261.1,1245.0 263.0,1249.1 C264.9,1253.2 266.7,1261.6 268.3,1268.3 C269.9,1275.0 270.7,1283.7 272.5,1289.5 C274.3,1295.3 276.8,1302.6 278.9,1303.3 C281.0,1304.0 283.2,1298.6 285.3,1293.8 C287.4,1289.0 289.6,1284.2 291.7,1274.6 C293.8,1265.0 295.9,1248.4 298.0,1236.4 C300.1,1224.4 301.9,1211.2 304.4,1202.4 C306.9,1193.6 310.1,1187.9 312.9,1183.3 C315.7,1178.7 318.2,1176.9 321.4,1174.8 C324.6,1172.7 329.0,1171.3 332.0,1170.5 C335.0,1169.7 336.0,1170.5 339.6,1169.9 C343.2,1169.3 348.6,1166.8 353.9,1166.7 C359.2,1166.6 365.0,1168.6 371.4,1169.5 C377.8,1170.4 387.4,1172.2 392.2,1172.1 C397.0,1172.0 390.3,1169.5 400.1,1168.9 C409.9,1168.3 440.5,1168.1 451.1,1168.3 C461.7,1168.5 455.4,1169.4 463.9,1169.9 C472.4,1170.4 491.5,1170.8 502.1,1171.1 C512.7,1171.4 519.9,1171.3 527.6,1171.5 C535.3,1171.7 541.5,1172.7 548.4,1172.1 C555.3,1171.5 563.5,1169.1 569.1,1168.0 C574.7,1166.9 577.0,1165.5 581.8,1165.7 C586.6,1165.9 589.8,1168.9 597.8,1168.9 C605.8,1168.9 620.9,1166.2 629.6,1165.7 C638.3,1165.2 643.3,1166.1 650.0,1166.0 C656.7,1165.9 661.7,1165.6 670.0,1165.0 C678.3,1164.4 660.7,1164.1 700.0,1162.5 C739.3,1160.9 871.7,1156.6 906.0,1155.4" fill="none" stroke="#ff6600" stroke-width="6.8" stroke-linejoin="round" stroke-linecap="butt"/>
<path d="M221.9,1510.0 C222.6,1512.5 224.5,1521.5 225.8,1524.9 C227.2,1528.3 228.6,1530.9 230.0,1530.6 C231.4,1530.2 232.9,1528.7 234.3,1522.8 C235.7,1516.9 236.9,1503.7 238.5,1495.2 C240.1,1486.7 241.7,1477.1 243.8,1471.8 C245.9,1466.5 248.6,1465.6 251.3,1463.3 C254.0,1461.0 257.3,1458.0 259.8,1458.0 C262.3,1458.0 264.0,1459.6 266.1,1463.3 C268.2,1467.0 270.0,1473.9 272.5,1480.3 C275.0,1486.7 278.5,1497.1 281.0,1501.5 C283.5,1505.9 285.3,1507.1 287.4,1506.8 C289.5,1506.5 292.0,1504.2 293.8,1499.4 C295.6,1494.6 296.4,1488.8 298.0,1478.2 C299.6,1467.6 301.5,1447.3 303.3,1435.6 C305.1,1423.9 306.8,1415.1 308.7,1408.0 C310.6,1400.9 312.5,1397.0 315.0,1393.1 C317.5,1389.2 320.3,1386.8 323.5,1384.6 C326.7,1382.4 330.5,1380.9 334.2,1379.7 C337.9,1378.5 340.2,1378.3 345.9,1377.6 C351.6,1376.9 360.9,1377.0 368.3,1375.7 C375.8,1374.4 384.2,1370.7 390.6,1369.6 C397.0,1368.5 400.7,1369.5 406.5,1369.3 C412.3,1369.0 419.2,1367.9 425.6,1368.1 C432.0,1368.3 435.2,1370.3 444.8,1370.3 C454.4,1370.3 471.3,1368.5 483.0,1368.1 C494.7,1367.7 506.9,1368.8 514.9,1368.1 C522.9,1367.4 524.9,1364.4 530.8,1364.2 C536.6,1364.0 545.2,1367.0 550.0,1367.1 C554.8,1367.1 554.2,1365.0 559.5,1364.5 C564.8,1364.0 574.9,1363.6 581.8,1364.2 C588.7,1364.8 594.6,1367.4 601.0,1368.1 C607.4,1368.8 612.6,1368.5 620.0,1368.1 C627.4,1367.7 635.4,1365.4 645.5,1365.5 C655.6,1365.6 671.6,1367.5 680.6,1368.7 C689.6,1369.9 694.9,1372.3 699.7,1372.5 C704.5,1372.7 701.3,1369.9 709.3,1369.6 C717.3,1369.3 733.2,1370.2 747.5,1370.9 C761.8,1371.6 782.5,1373.5 795.3,1373.5 C808.0,1373.5 814.4,1371.9 824.0,1371.2 C833.6,1370.5 844.2,1369.3 852.7,1369.3 C861.2,1369.2 866.1,1370.5 875.0,1370.9 C883.9,1371.3 900.8,1371.7 906.0,1371.9" fill="none" stroke="#00ff00" stroke-width="6.8" stroke-linejoin="round" stroke-linecap="butt"/>
<path d="M221.9,1697.6 C222.4,1699.9 223.5,1708.6 224.7,1711.4 C225.9,1714.2 227.4,1715.7 229.0,1714.6 C230.6,1713.5 232.4,1710.1 234.3,1705.0 C236.2,1699.9 238.1,1690.5 240.6,1683.8 C243.1,1677.1 246.6,1668.8 249.1,1664.6 C251.6,1660.3 253.4,1658.3 255.5,1658.3 C257.6,1658.3 259.8,1660.3 261.9,1664.6 C264.0,1668.8 266.2,1677.2 268.3,1683.8 C270.4,1690.4 272.6,1699.9 274.7,1704.0 C276.8,1708.1 278.9,1708.4 281.0,1708.2 C283.1,1708.0 285.4,1705.9 287.4,1702.9 C289.3,1699.9 290.9,1696.9 292.7,1690.2 C294.5,1683.5 296.2,1673.1 298.0,1662.5 C299.8,1651.9 301.7,1635.6 303.3,1626.4 C304.9,1617.2 305.7,1612.1 307.6,1607.3 C309.6,1602.5 312.7,1600.0 315.0,1597.7 C317.3,1595.4 318.9,1594.8 321.4,1593.4 C323.9,1592.0 326.4,1591.2 330.0,1589.2 C333.6,1587.2 338.0,1584.5 342.8,1581.2 C347.6,1577.9 352.9,1572.4 358.7,1569.4 C364.5,1566.4 373.0,1564.2 377.8,1563.1 C382.6,1562.0 383.4,1563.9 387.4,1562.7 C391.4,1561.5 396.9,1557.4 401.7,1555.7 C406.5,1554.0 411.1,1553.6 416.1,1552.5 C421.2,1551.4 427.8,1549.6 432.0,1549.3 C436.2,1549.0 437.4,1551.2 441.6,1550.9 C445.9,1550.7 452.7,1548.5 457.5,1547.8 C462.3,1547.1 465.0,1546.4 470.3,1546.8 C475.6,1547.2 483.0,1549.9 489.4,1550.3 C495.8,1550.7 502.4,1549.2 508.5,1549.3 C514.6,1549.4 521.2,1551.0 526.0,1550.9 C530.8,1550.8 533.2,1548.4 537.2,1548.7 C541.2,1549.0 546.3,1552.5 550.0,1552.5 C553.7,1552.5 554.2,1549.6 559.5,1548.7 C564.8,1547.8 575.9,1547.0 581.8,1547.1 C587.6,1547.2 586.6,1549.0 594.6,1549.3 C602.6,1549.6 612.0,1548.8 629.6,1548.7 C647.2,1548.6 653.9,1548.5 700.0,1548.5 C746.1,1548.5 871.7,1548.5 906.0,1548.5" fill="none" stroke="#0080ff" stroke-width="6.8" stroke-linejoin="round" stroke-linecap="butt"/>
<line x1="224.70" y1="956.00" x2="230.70" y2="956.00" stroke="#000" stroke-width="4.4" stroke-linecap="butt" />
<line x1="275.90" y1="956.00" x2="281.90" y2="956.00" stroke="#000" stroke-width="4.4" stroke-linecap="butt" />
<line x1="224.70" y1="1151.50" x2="230.70" y2="1151.50" stroke="#000" stroke-width="5.2" stroke-linecap="butt" />
<line x1="275.90" y1="1151.50" x2="281.90" y2="1151.50" stroke="#000" stroke-width="5.2" stroke-linecap="butt" />
<line x1="224.70" y1="1347.50" x2="230.70" y2="1347.50" stroke="#000" stroke-width="5.2" stroke-linecap="butt" />
<line x1="275.90" y1="1347.50" x2="281.90" y2="1347.50" stroke="#000" stroke-width="5.2" stroke-linecap="butt" />
<line x1="224.70" y1="1543.50" x2="230.70" y2="1543.50" stroke="#000" stroke-width="5.2" stroke-linecap="butt" />
<line x1="275.90" y1="1543.50" x2="281.90" y2="1543.50" stroke="#000" stroke-width="5.2" stroke-linecap="butt" />
<line x1="224.70" y1="1739.30" x2="230.70" y2="1739.30" stroke="#000" stroke-width="5.2" stroke-linecap="butt" />
<line x1="275.90" y1="1739.30" x2="281.90" y2="1739.30" stroke="#000" stroke-width="5.2" stroke-linecap="butt" />
<rect x="146.6" y="958.0" width="150.7" height="43.5" fill="#fff" stroke="#000" stroke-width="1.6"/>
<line x1="151.50" y1="982.60" x2="208.50" y2="982.60" stroke="#ff0000" stroke-width="6.4" stroke-linecap="round" />
<text x="217.5" y="992.2" font-size="33.3" font-weight="bold" text-anchor="start" >S900</text>
<rect x="146.6" y="1153.5" width="150.7" height="43.8" fill="#fff" stroke="#000" stroke-width="1.6"/>
<line x1="151.50" y1="1178.40" x2="208.50" y2="1178.40" stroke="#ff6600" stroke-width="6.4" stroke-linecap="round" />
<text x="217.5" y="1188.0" font-size="33.3" font-weight="bold" text-anchor="start" >S800</text>
<rect x="146.6" y="1349.5" width="150.7" height="43.5" fill="#fff" stroke="#000" stroke-width="1.6"/>
<line x1="151.50" y1="1374.10" x2="208.50" y2="1374.10" stroke="#00ff00" stroke-width="6.4" stroke-linecap="round" />
<text x="217.5" y="1383.7" font-size="33.3" font-weight="bold" text-anchor="start" >S700</text>
<rect x="146.6" y="1545.5" width="150.7" height="45.8" fill="#fff" stroke="#000" stroke-width="1.6"/>
<line x1="151.50" y1="1572.40" x2="208.50" y2="1572.40" stroke="#0080ff" stroke-width="6.4" stroke-linecap="round" />
<text x="217.5" y="1582.0" font-size="33.3" font-weight="bold" text-anchor="start" >S600</text>
<line x1="145.60" y1="953.80" x2="145.60" y2="1742.30" stroke="#000" stroke-width="5.5" stroke-linecap="butt" />
<line x1="143.10" y1="956.00" x2="300.00" y2="956.00" stroke="#000" stroke-width="4.4" stroke-linecap="butt" />
<line x1="143.10" y1="1151.50" x2="300.00" y2="1151.50" stroke="#000" stroke-width="5.2" stroke-linecap="butt" />
<line x1="143.10" y1="1347.50" x2="300.00" y2="1347.50" stroke="#000" stroke-width="5.2" stroke-linecap="butt" />
<line x1="143.10" y1="1543.50" x2="300.00" y2="1543.50" stroke="#000" stroke-width="5.2" stroke-linecap="butt" />
<text x="134.0" y="967.8" font-size="33" font-weight="bold" text-anchor="end" >100</text>
<text x="134.0" y="1016.7" font-size="33" font-weight="bold" text-anchor="end" >75</text>
<text x="134.0" y="1065.5" font-size="33" font-weight="bold" text-anchor="end" >50</text>
<text x="134.0" y="1114.4" font-size="33" font-weight="bold" text-anchor="end" >25</text>
<text x="134.0" y="1163.3" font-size="33" font-weight="bold" text-anchor="end" >100</text>
<text x="134.0" y="1212.3" font-size="33" font-weight="bold" text-anchor="end" >75</text>
<text x="134.0" y="1261.3" font-size="33" font-weight="bold" text-anchor="end" >50</text>
<text x="134.0" y="1310.3" font-size="33" font-weight="bold" text-anchor="end" >25</text>
<text x="134.0" y="1359.3" font-size="33" font-weight="bold" text-anchor="end" >100</text>
<text x="134.0" y="1408.3" font-size="33" font-weight="bold" text-anchor="end" >75</text>
<text x="134.0" y="1457.3" font-size="33" font-weight="bold" text-anchor="end" >50</text>
<text x="134.0" y="1506.3" font-size="33" font-weight="bold" text-anchor="end" >25</text>
<text x="134.0" y="1555.3" font-size="33" font-weight="bold" text-anchor="end" >100</text>
<text x="134.0" y="1604.2" font-size="33" font-weight="bold" text-anchor="end" >75</text>
<text x="134.0" y="1653.2" font-size="33" font-weight="bold" text-anchor="end" >50</text>
<text x="134.0" y="1702.1" font-size="33" font-weight="bold" text-anchor="end" >25</text>
<text x="135.0" y="1751.1" font-size="33" font-weight="bold" text-anchor="end" >0</text>
<text x="145.5" y="1776.0" font-size="33" font-weight="bold" text-anchor="middle" >0</text>
<text x="335.2" y="1776.0" font-size="33" font-weight="bold" text-anchor="middle" >1000</text>
<text x="525.0" y="1776.0" font-size="33" font-weight="bold" text-anchor="middle" >2000</text>
<text x="714.8" y="1776.0" font-size="33" font-weight="bold" text-anchor="middle" >3000</text>
<text x="904.5" y="1776.0" font-size="33" font-weight="bold" text-anchor="middle" >4000</text>
<text x="327.5" y="1830.8" font-size="43.3" font-weight="bold" text-anchor="start" >Wavenumber (cm<tspan font-size="25" dy="-18">-1</tspan><tspan dy="18">)</tspan></text>
<text transform="translate(55.6,1362.5) rotate(-90)" font-size="42.9" font-weight="bold" text-anchor="middle">Transmittance (%)</text>
<text x="-3.5" y="1026.6" font-size="55" font-weight="bold" text-anchor="start" >(b)</text>
<text x="178" y="1110.5" font-size="32" font-weight="bold">E<tspan font-size="20" font-weight="normal" dx="0" dy="12">u</tspan></text>
<text x="295" y="1110.5" font-size="32" font-weight="bold">A<tspan font-size="20" font-weight="normal" dx="0" dy="12">2u</tspan></text>
<text x="535" y="1059.3" font-size="33" font-weight="bold">E<tspan font-size="21" font-weight="normal" dx="0" dy="12">u</tspan></text>
<text x="578.5" y="1059.3" font-size="33" font-weight="bold">mode</text>
<text x="533" y="1252.2" font-size="33" font-weight="bold">A<tspan font-size="21" font-weight="normal" dx="0" dy="12">2u</tspan></text>
<text x="591.5" y="1252.2" font-size="33" font-weight="bold">mode</text>
<text transform="translate(207.7,1730) rotate(-90)" font-size="34" font-weight="bold">415 cm<tspan font-size="19" font-weight="normal" dx="-0.5" dy="-16.5">-1</tspan></text>
<text transform="translate(338.4,1712.5) rotate(-90)" font-size="34" font-weight="bold">704 cm<tspan font-size="19" font-weight="normal" dx="-0.5" dy="-16.5">-1</tspan></text>
<circle cx="781.9" cy="1116.2" r="23" fill="#7030a0" stroke="#2b4f96" stroke-width="1.4"/>
<line x1="795.6" y1="984.6" x2="795.6" y2="1037.5" stroke="#1590d0" stroke-width="7.6" stroke-linecap="butt"/>
<line x1="795.6" y1="984.6" x2="795.6" y2="1037.5" stroke="#3cc0f0" stroke-width="3.0" stroke-linecap="butt"/>
<line x1="795.6" y1="1037.5" x2="795.6" y2="1089.4" stroke="#1590d0" stroke-width="7.6" stroke-linecap="butt"/>
<line x1="795.6" y1="1037.5" x2="795.6" y2="1089.4" stroke="#3cc0f0" stroke-width="3.0" stroke-linecap="butt"/>
<line x1="795.6" y1="1089.4" x2="729.7" y2="1122.2" stroke="#1590d0" stroke-width="8.5" stroke-linecap="butt"/>
<line x1="795.6" y1="1089.4" x2="729.7" y2="1122.2" stroke="#3cc0f0" stroke-width="3.4" stroke-linecap="butt"/>
<line x1="795.6" y1="1089.4" x2="860.7" y2="1122.2" stroke="#1590d0" stroke-width="8.5" stroke-linecap="butt"/>
<line x1="795.6" y1="1089.4" x2="860.7" y2="1122.2" stroke="#3cc0f0" stroke-width="3.4" stroke-linecap="butt"/>
<polygon points="784.8,1101.4 790,1106.9 784.8,1112.4 779.6,1106.9" fill="#1590d0"/>
<circle cx="729.7" cy="1120.2" r="23.2" fill="#7030a0" stroke="#2b4f96" stroke-width="1.4"/>
<text x="729.7" y="1127.3" font-size="20" font-weight="bold" text-anchor="middle">Ga</text>
<circle cx="860.7" cy="1120.2" r="23.2" fill="#7030a0" stroke="#2b4f96" stroke-width="1.4"/>
<text x="860.7" y="1127.3" font-size="20" font-weight="bold" text-anchor="middle">Ga</text>
<circle cx="795.6" cy="1037.5" r="20.2" fill="#ff0000" stroke="#2b4f96" stroke-width="1.4"/>
<text x="795.6" y="1044.6" font-size="20" font-weight="bold" text-anchor="middle">Cu</text>
<circle cx="795.6" cy="984.6" r="16.1" fill="#ffff00" stroke="#2b4f96" stroke-width="1.4"/>
<text x="795.6" y="992.2" font-size="21.5" font-weight="bold" text-anchor="middle">O</text>
<circle cx="795.6" cy="1089.4" r="16.1" fill="#ffff00" stroke="#2b4f96" stroke-width="1.4"/>
<text x="795.6" y="1097.0" font-size="21.5" font-weight="bold" text-anchor="middle">O</text>
<rect x="737.7" y="982.6" width="47.3" height="4" fill="url(#gL)"/>
<polygon points="725.7,984.6 737.7,978.4 737.7,990.8" fill="#c0102a"/>
<rect x="813.8" y="1035.5" width="32.2" height="4" fill="url(#gR)"/>
<polygon points="858,1037.5 846.0,1031.3 846.0,1043.7" fill="#c0102a"/>
<rect x="737.7" y="1087.4" width="47.3" height="4" fill="url(#gL)"/>
<polygon points="725.7,1089.4 737.7,1083.2 737.7,1095.6" fill="#c0102a"/>
<rect x="745.7" y="1118.2" width="18.1" height="4" fill="url(#gR)"/>
<polygon points="774.8,1120.2 763.8,1114.0 763.8,1126.4" fill="#c0102a"/>
<rect x="798.2" y="1114.2" width="14.5" height="4" fill="url(#gR)"/>
<polygon points="822.7,1116.2 812.7,1110.7 812.7,1121.7" fill="#c0102a"/>
<rect x="876.3" y="1118.2" width="14.7" height="4" fill="url(#gR)"/>
<polygon points="902,1120.2 891.0,1114.0 891.0,1126.4" fill="#c0102a"/>
<circle cx="781.9" cy="1311.8" r="23" fill="#7030a0" stroke="#2b4f96" stroke-width="1.4"/>
<line x1="795.6" y1="1180.2" x2="795.6" y2="1233.1" stroke="#1590d0" stroke-width="7.6" stroke-linecap="butt"/>
<line x1="795.6" y1="1180.2" x2="795.6" y2="1233.1" stroke="#3cc0f0" stroke-width="3.0" stroke-linecap="butt"/>
<line x1="795.6" y1="1233.1" x2="795.6" y2="1285.0" stroke="#1590d0" stroke-width="7.6" stroke-linecap="butt"/>
<line x1="795.6" y1="1233.1" x2="795.6" y2="1285.0" stroke="#3cc0f0" stroke-width="3.0" stroke-linecap="butt"/>
<line x1="795.6" y1="1285.0" x2="729.7" y2="1317.8" stroke="#1590d0" stroke-width="8.5" stroke-linecap="butt"/>
<line x1="795.6" y1="1285.0" x2="729.7" y2="1317.8" stroke="#3cc0f0" stroke-width="3.4" stroke-linecap="butt"/>
<line x1="795.6" y1="1285.0" x2="860.7" y2="1317.8" stroke="#1590d0" stroke-width="8.5" stroke-linecap="butt"/>
<line x1="795.6" y1="1285.0" x2="860.7" y2="1317.8" stroke="#3cc0f0" stroke-width="3.4" stroke-linecap="butt"/>
<polygon points="784.8,1297.0 790,1302.5 784.8,1308.0 779.6,1302.5" fill="#1590d0"/>
<circle cx="729.7" cy="1315.8" r="23.2" fill="#7030a0" stroke="#2b4f96" stroke-width="1.4"/>
<text x="729.7" y="1322.9" font-size="20" font-weight="bold" text-anchor="middle">Ga</text>
<circle cx="860.7" cy="1315.8" r="23.2" fill="#7030a0" stroke="#2b4f96" stroke-width="1.4"/>
<text x="860.7" y="1322.9" font-size="20" font-weight="bold" text-anchor="middle">Ga</text>
<circle cx="795.6" cy="1233.1" r="20.2" fill="#ff0000" stroke="#2b4f96" stroke-width="1.4"/>
<text x="795.6" y="1240.2" font-size="20" font-weight="bold" text-anchor="middle">Cu</text>
<circle cx="795.6" cy="1180.2" r="16.1" fill="#ffff00" stroke="#2b4f96" stroke-width="1.4"/>
<text x="795.6" y="1187.8" font-size="21.5" font-weight="bold" text-anchor="middle">O</text>
<circle cx="795.6" cy="1285.0" r="16.1" fill="#ffff00" stroke="#2b4f96" stroke-width="1.4"/>
<text x="795.6" y="1292.6" font-size="21.5" font-weight="bold" text-anchor="middle">O</text>
<rect x="763.4" y="1170.6" width="4" height="38.2" fill="url(#gD)"/>
<polygon points="765.4,1220.8 759.2,1208.8 771.6,1208.8" fill="#c0102a"/>
<rect x="763.4" y="1233.1" width="4" height="17.9" fill="url(#gU)"/>
<polygon points="765.4,1223.1 759.2,1233.1 771.6,1233.1" fill="#7a1030"/>
<rect x="725.9" y="1281.9" width="4" height="13.7" fill="url(#gU)"/>
<polygon points="727.9,1269.9 721.7,1281.9 734.1,1281.9" fill="#7a1030"/>
<rect x="776.1" y="1278.6" width="4" height="12.4" fill="url(#gU)"/>
<polygon points="778.1,1266.6 771.9,1278.6 784.3,1278.6" fill="#7a1030"/>
<rect x="858.2" y="1281.9" width="4" height="13.7" fill="url(#gU)"/>
<polygon points="860.2,1269.9 854.0,1281.9 866.4,1281.9" fill="#7a1030"/>
<rect x="794.0" y="1297.8" width="4" height="34.9" fill="url(#gD)"/>
<polygon points="796,1344.7 789.8,1332.7 802.2,1332.7" fill="#c0102a"/>
</svg>
</body></html>
